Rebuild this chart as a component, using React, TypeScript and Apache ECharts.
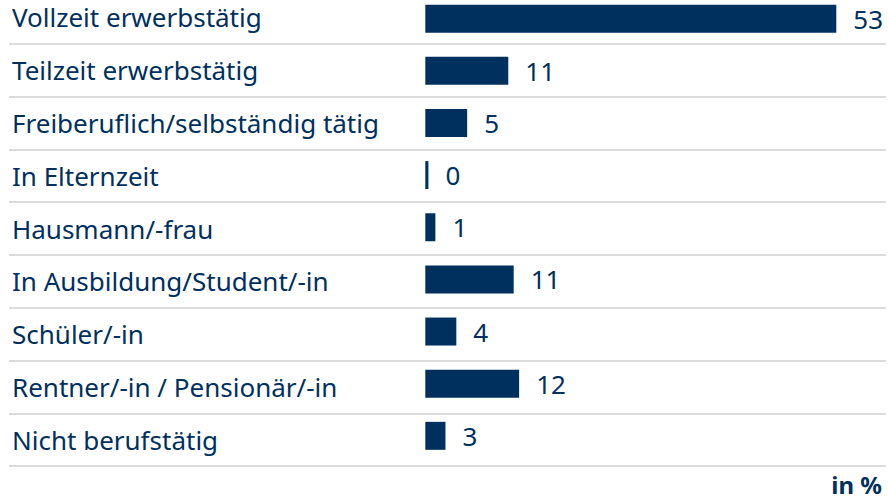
import React, { useEffect, useRef } from "react";
import * as echarts from "echarts";

const categories = [
  "Vollzeit erwerbstätig",
  "Teilzeit erwerbstätig",
  "Freiberuflich/selbständig tätig",
  "In Elternzeit",
  "Hausmann/-frau",
  "In Ausbildung/Student/-in",
  "Schüler/-in",
  "Rentner/-in / Pensionär/-in",
  "Nicht berufstätig",
];
const values = [53, 10.7, 5.4, 0.4, 1.3, 11.4, 4.0, 12.1, 2.6];
const unitLabel = "in %";

const NAVY = "#00305e";
const FONT = "Noto Sans";

export default function App() {
  const ref = useRef<HTMLDivElement>(null);
  useEffect(() => {
    document.body.style.margin = "0";
    const chart = echarts.init(ref.current!, null, { renderer: "svg" });
    chart.setOption({
      animation: false,
      backgroundColor: "#ffffff",
      grid: [
        { left: 9, right: 3, top: -9, bottom: 32.8, containLabel: false, outerBoundsMode: "none" },
        { left: 425.3, right: 37.2, top: -7.4, bottom: 37.1, containLabel: false, outerBoundsMode: "none" },
      ],
      xAxis: [
        { type: "value", gridIndex: 0, min: 0, max: 1, show: false },
        { type: "value", gridIndex: 1, min: 0, max: 55, show: false },
      ],
      yAxis: [
        {
          type: "category",
          gridIndex: 0,
          inverse: true,
          data: categories,
          axisLine: { show: false },
          axisTick: { show: false },
          splitLine: {
            show: true,
            interval: 0,
            lineStyle: { color: "#dcdcdc", width: 2 },
          },
          axisLabel: {
            show: true,
            inside: true,
            interval: 0,
            margin: 3,
            align: "left",
            color: NAVY,
            fontFamily: FONT,
            fontSize: 26,
            padding: [3, 0, 0, 0],
          },
        },
        {
          type: "category",
          gridIndex: 1,
          inverse: true,
          data: categories,
          show: false,
        },
      ],
      series: [
        {
          type: "bar",
          xAxisIndex: 1,
          yAxisIndex: 1,
          data: values,
          barWidth: 28,
          itemStyle: { color: NAVY },
          label: {
            show: true,
            position: "right",
            distance: 17,
            color: NAVY,
            fontFamily: FONT,
            fontSize: 26,
            formatter: (p: any) => String(Math.round(p.value)),
          },
        },
      ],
      graphic: [
        {
          type: "text",
          right: 7,
          top: 472,
          style: {
            text: unitLabel,
            fill: NAVY,
            font: `bold 24px "${FONT}"`,
          },
        },
      ],
    });
    return () => chart.dispose();
  }, []);
  return <div ref={ref} style={{ width: 889, height: 499 }} />;
}
